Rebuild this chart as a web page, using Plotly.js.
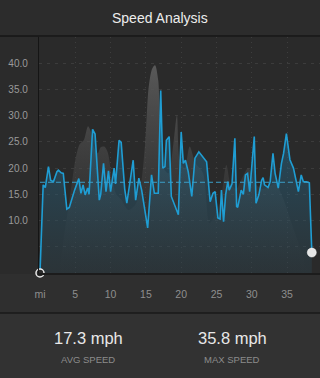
<!DOCTYPE html>
<html>
<head>
<meta charset="utf-8">
<script src="https://cdn.plot.ly/plotly-3.0.1.min.js"></script>
<style>
html,body{margin:0;padding:0;background:#323232;}
#chart{width:320px;height:378px;}
</style>
</head>
<body>
<div id="chart"></div>
<script>
// Speed trace (mile, mph)
const miles = [0,0.45,0.75,1.2,1.5,1.9,2.4,2.6,3.0,3.3,3.8,4.15,4.9,5.5,5.8,6.1,6.4,6.75,6.95,7.45,7.8,8.4,8.6,9.0,9.35,9.7,10.0,10.5,10.7,11.2,11.5,12.0,12.3,12.6,13.2,13.55,14.0,14.4,15.25,15.8,16.2,16.75,17.1,17.4,17.7,17.9,18.3,18.6,19.6,20.0,20.3,20.6,21.0,21.5,21.95,22.5,23.6,24.1,24.5,24.8,25.2,25.5,25.7,26.0,26.3,26.6,26.8,27.2,27.6,27.85,28.0,28.5,28.8,29.1,29.4,29.7,30.35,30.6,31.0,31.4,31.6,31.8,32.3,32.6,33.0,33.3,33.75,34.2,34.5,34.9,35.4,35.9,36.6,37.0,37.3,37.75,38.15,38.5];
const speed = [0,16.8,16.3,20.3,17.7,17.4,19.3,19.6,19.1,19.0,12.2,12.5,15.8,18.0,15.2,16.8,14.9,16.2,15.0,27.4,26.5,13.9,15.0,20.9,15.5,19.5,15.5,20.0,17.0,25.3,24.9,16.0,13.3,16.2,21.5,13.9,18.1,15.8,8.6,18.7,15.2,15.2,34.8,20.0,20.3,25.3,26.0,14.6,11.1,26.9,20.9,21.5,19.3,14.6,21.9,23.1,21.2,13.6,15.2,15.5,10.5,10.3,15.8,9.8,15.0,17.4,15.8,17.0,25.7,12.7,12.5,15.8,15.0,18.7,19.0,15.5,26.0,13.3,14.9,17.7,18.2,16.8,16.3,17.4,22.8,19.0,16.2,20.9,22.8,26.6,21.6,20.0,15.5,18.7,17.4,17.4,17.2,3.9];

// Background grey profile (mile, value on same scale)
const profileMiles = [0,2.5,3.0,3.5,3.9,4.5,5.0,5.6,6.2,6.8,7.2,7.6,8.2,8.6,9.1,9.6,10.2,10.8,11.5,12.5,13.5,14.3,14.9,15.4,15.9,16.3,16.75,17.0,17.5,18.2,18.9,19.4,19.8,20.5,21.2,22.0,23.1,24.0,24.8,25.6,26.4,27.0,27.8,28.6,29.5,30.5,31.5,32.5,33.3,34.5,35.5,36.6,37.5,38.0];
const profile = [0,0,3,8,11.5,17,21.5,24.5,25.3,28.0,27,24,22.9,24.0,24.1,23,18,15,14,12,13,17,24.8,35.5,39,39.6,36.7,27.9,20,19,24.7,30.1,21.5,20,24.1,21,19,9.5,11,14,20.6,17,16,18,20,17,16,16.5,17.1,14,10,5.7,2,0];

const avgSpeed = 17.3;
const maxSpeed = 35.8;

const yTickVals = [5,10,15,20,25,30,35,40];
const yTickText = ["","10.0","15.0","20.0","25.0","30.0","35.0","40.0"];
const xTickVals = [0,5,10,15,20,25,30,35];
const xTickText = ["mi","5","10","15","20","25","30","35"];

const W = 320, H = 378, ML = 39, MR = 0, MT = 37, MB = 105;
const PW = W - ML - MR, PH = H - MT - MB;
const px = p => (p - ML) / PW;
const py = p => (H - MB - p) / PH;

const FONT = "Liberation Sans, Arial, sans-serif";

const traces = [
  {
    x: profileMiles, y: profile, type: 'scatter', mode: 'lines',
    line: {width: 0, color: 'rgba(0,0,0,0)', shape: 'spline', smoothing: 0.8},
    fill: 'tozeroy',
    fillgradient: {type: 'vertical', start: 0, stop: 40,
      colorscale: [[0, 'rgba(60,60,60,0)'], [0.35, 'rgba(70,70,70,0.35)'], [1, 'rgba(92,92,92,0.95)']]},
    hoverinfo: 'skip', showlegend: false
  },
  {
    x: miles, y: speed, type: 'scatter', mode: 'lines',
    line: {width: 1.6, color: '#1f9dd3'},
    fill: 'tozeroy',
    fillgradient: {type: 'vertical', start: 0, stop: 28,
      colorscale: [[0, 'rgba(45,70,82,0.35)'], [1, 'rgba(35,105,140,0.55)']]},
    hoverinfo: 'skip', showlegend: false
  },
  {
    x: [miles[0]], y: [speed[0]], type: 'scatter', mode: 'markers',
    marker: {size: 8, color: '#2b2b2b', line: {color: '#e8e8e8', width: 1.5}},
    cliponaxis: false, hoverinfo: 'skip', showlegend: false
  },
  {
    x: [miles[miles.length-1]], y: [speed[speed.length-1]], type: 'scatter', mode: 'markers',
    marker: {size: 9, color: '#e6e6e6', line: {color: '#ffffff', width: 0.5}},
    cliponaxis: false, hoverinfo: 'skip', showlegend: false
  }
];

const layout = {
  width: W, height: H,
  margin: {l: ML, r: MR, t: MT, b: MB, pad: 0},
  paper_bgcolor: '#323232',
  plot_bgcolor: '#2a2a2a',
  font: {family: FONT, color: '#999999', size: 10},
  showlegend: false,
  xaxis: {
    range: [-0.14, 39.66], fixedrange: true,
    tickvals: xTickVals, ticktext: xTickText,
    tickfont: {size: 10.5, color: '#8e8e8e', family: FONT},
    ticks: '', ticklabelstandoff: 11,
    showgrid: true, gridcolor: '#3e3e3e', griddash: '1px,4px', gridwidth: 1,
    zeroline: false, showline: true, linecolor: '#1c1c1c', linewidth: 1.5
  },
  yaxis: {
    range: [0, 45], fixedrange: true,
    tickvals: yTickVals, ticktext: yTickText,
    tickfont: {size: 10, color: '#9a9a9a', family: FONT},
    ticks: '', ticklabelstandoff: 8,
    showgrid: true, gridcolor: '#3c3c3c', griddash: '3px,5px', gridwidth: 1,
    zeroline: false, showline: true, linecolor: '#151515', linewidth: 1.2
  },
  shapes: [
    {type: 'rect', xref: 'paper', yref: 'paper', x0: px(0), x1: px(W), y0: py(36), y1: py(0),
      fillcolor: '#2c2c2c', line: {width: 0}, layer: 'below'},
    {type: 'line', xref: 'paper', yref: 'paper', x0: px(0), x1: px(W), y0: py(36), y1: py(36),
      line: {color: '#161616', width: 1.5}},
    {type: 'rect', xref: 'paper', yref: 'paper', x0: px(0), x1: px(W), y0: py(313), y1: py(274),
      fillcolor: '#2f2f2f', line: {width: 0}, layer: 'below'},
    {type: 'rect', xref: 'paper', yref: 'paper', x0: px(0), x1: px(ML), y0: py(274), y1: py(36),
      fillcolor: '#2b2b2b', line: {width: 0}, layer: 'below'},
    {type: 'line', xref: 'paper', yref: 'paper', x0: px(0), x1: px(W), y0: py(313), y1: py(313),
      line: {color: '#1a1a1a', width: 1.5}},
    {type: 'line', xref: 'x', yref: 'y', x0: miles[0], x1: miles[miles.length-1], y0: avgSpeed, y1: avgSpeed,
      line: {color: '#3b9ec8', width: 1, dash: '5px,3px'}}
  ],
  annotations: [
    {text: 'Speed Analysis', xref: 'paper', yref: 'paper', x: px(160), y: py(18),
      xanchor: 'center', yanchor: 'middle', showarrow: false,
      font: {family: FONT, size: 14, color: '#ececec'}},
    {text: avgSpeed.toFixed(1) + ' mph', xref: 'paper', yref: 'paper', x: px(88), y: py(338),
      xanchor: 'center', yanchor: 'middle', showarrow: false,
      font: {family: FONT, size: 16.5, color: '#e8e8e8'}},
    {text: 'AVG SPEED', xref: 'paper', yref: 'paper', x: px(88), y: py(359),
      xanchor: 'center', yanchor: 'middle', showarrow: false,
      font: {family: FONT, size: 9.5, color: '#8c8c8c'}},
    {text: maxSpeed.toFixed(1) + ' mph', xref: 'paper', yref: 'paper', x: px(232), y: py(338),
      xanchor: 'center', yanchor: 'middle', showarrow: false,
      font: {family: FONT, size: 16.5, color: '#e8e8e8'}},
    {text: 'MAX SPEED', xref: 'paper', yref: 'paper', x: px(232), y: py(359),
      xanchor: 'center', yanchor: 'middle', showarrow: false,
      font: {family: FONT, size: 9.5, color: '#8c8c8c'}}
  ]
};

Plotly.newPlot('chart', traces, layout, {displayModeBar: false, staticPlot: true});
</script>
</body>
</html>
